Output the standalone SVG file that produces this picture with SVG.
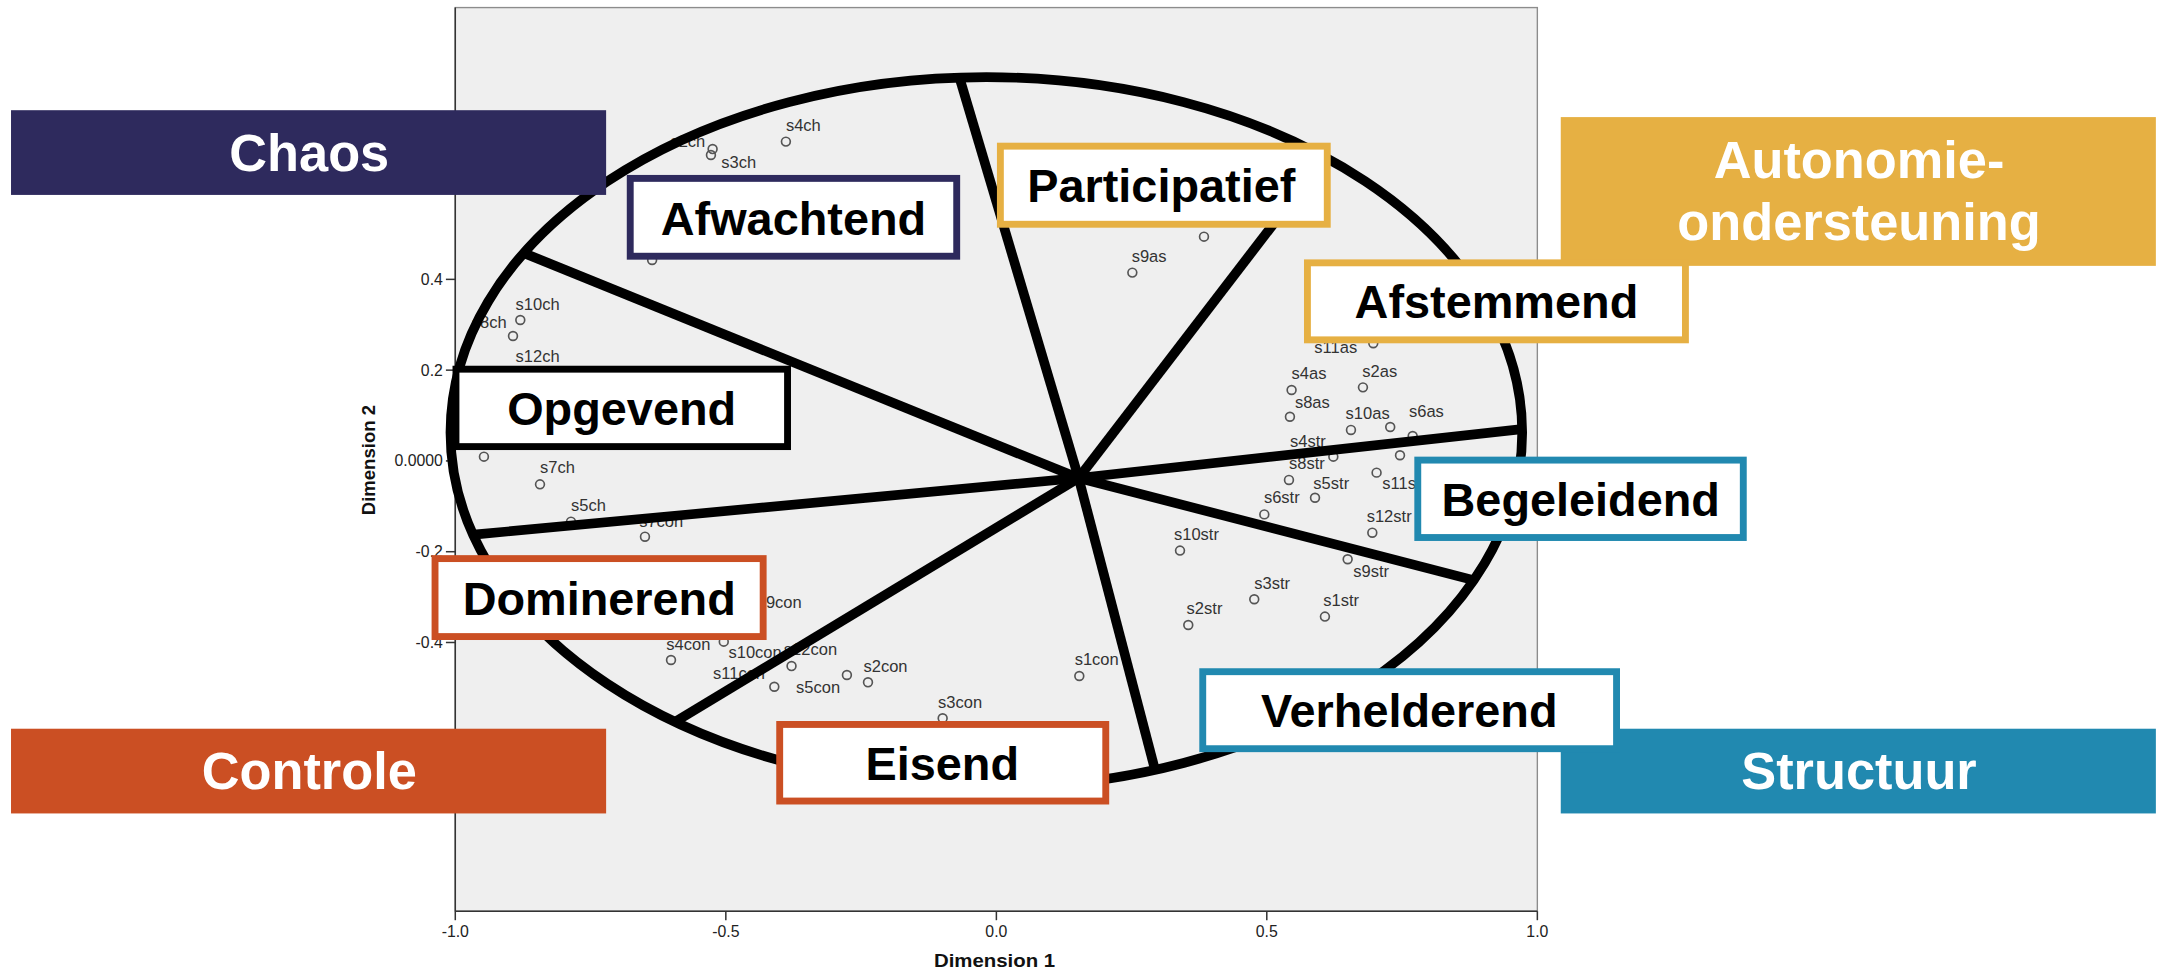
<svg xmlns="http://www.w3.org/2000/svg" width="2160" height="972" viewBox="0 0 2160 972">
<style>
text{font-family:"Liberation Sans",Arial,sans-serif}
.pt{fill:none;stroke:#555;stroke-width:1.2}
.lb{font-size:12px;fill:#333}
.tk{font-size:11.5px;fill:#222}
.ax{stroke:#333;stroke-width:1.1}
.sp{stroke:#000;stroke-width:7;fill:none;stroke-linecap:butt}
.bx{fill:#fff;stroke-width:5}
.bt{font-size:34px;font-weight:bold;fill:#000;text-anchor:middle}
.ft{font-size:38px;font-weight:bold;fill:#fff;text-anchor:middle}
.navy{stroke:#2e2a5d}
.gold{stroke:#e6b043}
.red{stroke:#cb4f23}
.blue{stroke:#2189b0}
</style>
<rect width="2160" height="972" fill="#fff"/>
<g transform="scale(1.377551)">
<g id="plot">
<rect x="330.5" y="5.5" width="785.5" height="656" fill="#efefef" stroke="#8c8c8c" stroke-width="1"/>
<line class="ax" x1="330.5" y1="5.5" x2="330.5" y2="661.5"/>
<line class="ax" x1="330.5" y1="661.5" x2="1116" y2="661.5"/>
<g class="ax">
<line x1="323.7" y1="202.8" x2="330.5" y2="202.8"/>
<line x1="323.7" y1="268.7" x2="330.5" y2="268.7"/>
<line x1="323.7" y1="334.6" x2="330.5" y2="334.6"/>
<line x1="323.7" y1="400.5" x2="330.5" y2="400.5"/>
<line x1="323.7" y1="466.4" x2="330.5" y2="466.4"/>
<line x1="330.5" y1="661.5" x2="330.5" y2="668"/>
<line x1="526.9" y1="661.5" x2="526.9" y2="668"/>
<line x1="723.3" y1="661.5" x2="723.3" y2="668"/>
<line x1="919.6" y1="661.5" x2="919.6" y2="668"/>
<line x1="1116" y1="661.5" x2="1116" y2="668"/>
</g>
<g class="tk" text-anchor="end">
<text x="321.5" y="206.8">0.4</text>
<text x="321.5" y="272.7">0.2</text>
<text x="321.5" y="338.6">0.0000</text>
<text x="321.5" y="404.5">-0.2</text>
<text x="321.5" y="470.4">-0.4</text>
</g>
<g class="tk" text-anchor="middle">
<text x="330.5" y="680">-1.0</text>
<text x="526.9" y="680">-0.5</text>
<text x="723.3" y="680">0.0</text>
<text x="919.6" y="680">0.5</text>
<text x="1116" y="680">1.0</text>
</g>
<text x="722" y="702" font-size="14" font-weight="bold" text-anchor="middle" textLength="88" lengthAdjust="spacingAndGlyphs" fill="#111">Dimension 1</text>
<text transform="translate(272,334) rotate(-90)" font-size="14" font-weight="bold" text-anchor="middle" textLength="80" lengthAdjust="spacingAndGlyphs" fill="#111">Dimension 2</text>
</g>
<g id="points">
<circle class="pt" cx="570.5" cy="102.8" r="3.2"/><text class="lb" x="570.5" y="95">s4ch</text>
<circle class="pt" cx="517.3" cy="108.2" r="3.2"/><circle class="pt" cx="516.1" cy="112.5" r="3.2"/>
<text class="lb" x="512" y="106.5" text-anchor="end">s2ch</text><text class="lb" x="523.6" y="122.2">s3ch</text>
<circle class="pt" cx="473.4" cy="188.7" r="3.2"/>
<circle class="pt" cx="377.7" cy="232.3" r="3.2"/><text class="lb" x="374.3" y="225">s10ch</text>
<circle class="pt" cx="372.4" cy="243.9" r="3.2"/><text class="lb" x="367.8" y="237.9" text-anchor="end">s8ch</text>
<text class="lb" x="374.3" y="263">s12ch</text>
<circle class="pt" cx="351.3" cy="331.5" r="3.2"/>
<circle class="pt" cx="392" cy="351.6" r="3.2"/><text class="lb" x="392" y="343.6">s7ch</text>
<circle class="pt" cx="414.5" cy="378.7" r="3.2"/><text class="lb" x="414.5" y="370.7">s5ch</text>
<circle class="pt" cx="468.2" cy="389.6" r="3.2"/><text class="lb" x="464" y="382.3">s7con</text>
<circle class="pt" cx="552" cy="449" r="3.2"/><text class="lb" x="550" y="441.6">s9con</text>
<circle class="pt" cx="487.1" cy="479.1" r="3.2"/><text class="lb" x="483.7" y="471.8">s4con</text>
<circle class="pt" cx="525.4" cy="465.8" r="3.2"/>
<text class="lb" x="528.8" y="477.9">s10con</text>
<circle class="pt" cx="574.6" cy="483.5" r="3.2"/><text class="lb" x="569" y="475.5">s12con</text>
<text class="lb" x="517.6" y="493.1">s11con</text>
<circle class="pt" cx="562.1" cy="498.5" r="3.2"/><text class="lb" x="577.9" y="502.8">s5con</text>
<circle class="pt" cx="614.8" cy="490" r="3.2"/>
<circle class="pt" cx="630.1" cy="495.3" r="3.2"/><text class="lb" x="626.8" y="487.6">s2con</text>
<circle class="pt" cx="684.3" cy="521.4" r="3.2"/><text class="lb" x="681" y="513.7">s3con</text>
<circle class="pt" cx="783.5" cy="490.7" r="3.2"/><text class="lb" x="780.1" y="482.7">s1con</text>
<circle class="pt" cx="874" cy="171.8" r="3.2"/>
<circle class="pt" cx="822" cy="197.9" r="3.2"/><text class="lb" x="821.5" y="190">s9as</text>
<circle class="pt" cx="996.9" cy="249.2" r="3.2"/><text class="lb" x="954.1" y="256">s11as</text>
<circle class="pt" cx="937.6" cy="283.1" r="3.2"/><text class="lb" x="937.6" y="275.4">s4as</text>
<circle class="pt" cx="989.4" cy="281.2" r="3.2"/><text class="lb" x="988.9" y="273.4">s2as</text>
<circle class="pt" cx="936.4" cy="302.5" r="3.2"/><text class="lb" x="940" y="296.4">s8as</text>
<circle class="pt" cx="980.7" cy="312.1" r="3.2"/><text class="lb" x="976.8" y="304.2">s10as</text>
<circle class="pt" cx="1009.2" cy="310" r="3.2"/><text class="lb" x="1022.8" y="302.5">s6as</text>
<circle class="pt" cx="1025.5" cy="316.5" r="3.2"/>
<circle class="pt" cx="967.9" cy="331.5" r="3.2"/><text class="lb" x="936.4" y="324.2">s4str</text>
<circle class="pt" cx="1016.3" cy="330.5" r="3.2"/>
<circle class="pt" cx="935.7" cy="348.4" r="3.2"/><text class="lb" x="935.7" y="340.7">s8str</text>
<circle class="pt" cx="999.3" cy="343.1" r="3.2"/>
<circle class="pt" cx="954.6" cy="361.3" r="3.2"/><text class="lb" x="953.4" y="354.7">s5str</text>
<text class="lb" x="1003.4" y="355.2">s11str</text>
<circle class="pt" cx="917.8" cy="373.4" r="3.2"/><text class="lb" x="917.5" y="365.4">s6str</text>
<circle class="pt" cx="996.2" cy="386.7" r="3.2"/><text class="lb" x="992.1" y="378.7">s12str</text>
<circle class="pt" cx="856.6" cy="399.7" r="3.2"/><text class="lb" x="852.2" y="392">s10str</text>
<circle class="pt" cx="978.3" cy="406" r="3.2"/><text class="lb" x="982.4" y="419.1">s9str</text>
<circle class="pt" cx="910.5" cy="435" r="3.2"/><text class="lb" x="910.5" y="427.8">s3str</text>
<circle class="pt" cx="961.8" cy="447.6" r="3.2"/><text class="lb" x="960.6" y="439.7">s1str</text>
<circle class="pt" cx="862.6" cy="453.7" r="3.2"/><text class="lb" x="861.4" y="445.9">s2str</text>
</g>
<g id="connectors">
<ellipse class="sp" cx="716" cy="314" rx="389" ry="258"/>
<line class="sp" x1="783" y1="347" x2="696.5" y2="56.3"/>
<line class="sp" x1="783" y1="347" x2="962" y2="113.6"/>
<line class="sp" x1="783" y1="347" x2="1104.8" y2="311.5"/>
<line class="sp" x1="783" y1="347" x2="1070.3" y2="421.3"/>
<line class="sp" x1="783" y1="347" x2="838.5" y2="559"/>
<line class="sp" x1="783" y1="347" x2="490" y2="524"/>
<line class="sp" x1="783" y1="347" x2="344" y2="388.1"/>
<line class="sp" x1="783" y1="347" x2="381" y2="184"/>
</g>
<g id="node-chaos"><rect x="8" y="80" width="432" height="61.5" fill="#2e2a5d"/><text class="ft" x="224.5" y="124">Chaos</text></g>
<g id="node-controle"><rect x="8" y="529" width="432" height="61.5" fill="#cb4f23"/><text class="ft" x="224.5" y="573">Controle</text></g>
<g id="node-autonomie"><rect x="1133" y="85" width="432" height="108" fill="#e6b043"/><text class="ft" x="1349.5" y="129.5">Autonomie-</text><text class="ft" x="1349.5" y="174">ondersteuning</text></g>
<g id="node-structuur"><rect x="1133" y="529" width="432" height="61.5" fill="#2189b0"/><text class="ft" x="1349.5" y="573">Structuur</text></g>
<g id="node-afwachtend"><rect class="bx navy" x="457.5" y="129.5" width="237" height="56.5"/><text class="bt" x="576" y="170.5">Afwachtend</text></g>
<g id="node-participatief"><rect class="bx gold" x="726.2" y="106.1" width="237.3" height="56.7"/><text class="bt" x="843" y="146.5">Participatief</text></g>
<g id="node-afstemmend"><rect class="bx gold" x="949.1" y="190.8" width="274.4" height="55.9"/><text class="bt" x="1086.3" y="231">Afstemmend</text></g>
<g id="node-opgevend"><rect class="bx" stroke="#000" stroke-width="6" x="331" y="268" width="240.7" height="56.2"/><text class="bt" x="451.3" y="308.5">Opgevend</text></g>
<g id="node-dominerend"><rect class="bx red" x="315.8" y="405.5" width="238.2" height="56.6"/><text class="bt" x="435" y="446.2">Dominerend</text></g>
<g id="node-eisend"><rect class="bx red" x="566" y="525.9" width="236.7" height="55.6"/><text class="bt" x="684" y="566">Eisend</text></g>
<g id="node-verhelderend"><rect class="bx blue" x="873.1" y="487.6" width="300.4" height="55.9"/><text class="bt" x="1023" y="528">Verhelderend</text></g>
<g id="node-begeleidend"><rect class="bx blue" x="1029.2" y="334" width="236.3" height="56.2"/><text class="bt" x="1147.5" y="374.5">Begeleidend</text></g>
</g>
</svg>
